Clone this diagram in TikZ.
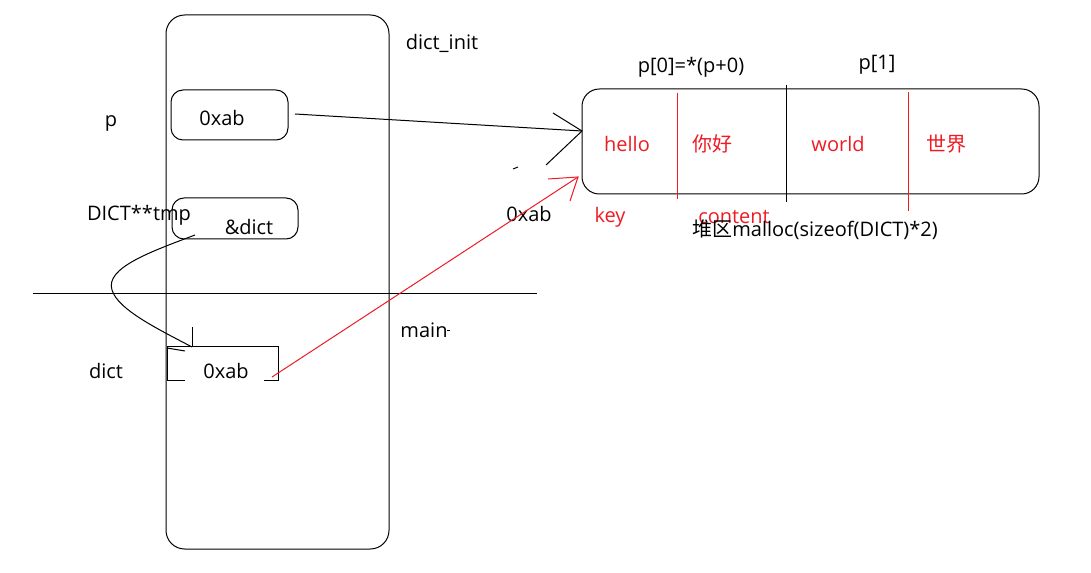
\documentclass[tikz,border=0pt]{standalone}
\usepackage{fontspec}
\setmainfont{Open Sans}
\newfontfamily\cjk{Noto Sans CJK SC}
\definecolor{pred}{RGB}{237,28,36}
\begin{document}
\begin{tikzpicture}[x=0.75pt,y=-0.75pt,line width=0.75pt,
  txt/.style={inner sep=0pt,font=\fontsize{15pt}{18pt}\selectfont},
  redtxt/.style={txt,text=pred},
  redln/.style={draw=pred,line width=0.75pt}]
\useasboundingbox (0,0) rectangle (1091,573);
% stack frame
\draw[rounded corners=14pt] (166,15) rectangle (389,549);
\draw (33,294) -- (537,294);
% p box
\draw[rounded corners=9pt] (171,90) rectangle (288,140);
% &dict box
\draw[rounded corners=9pt] (172,198) rectangle (298,239);
% dict box (open bottom)
\draw (185,380) -- (167,380) -- (167,346) -- (278,346) -- (278,380) -- (264,380);
% heap
\draw[rounded corners=13pt] (582,89) rectangle (1039,194);
\draw[pred] (677,93) -- (677,199);
\draw (786,85) -- (786,202);
\draw[pred] (908,92) -- (908,211);

% labels
\node[txt] (dictinit) at (442,43) {dict\_init};
\node[txt] (plab) at (111,123) {p};
\node[txt] (pval) at (222,118) {0xab};
\node[txt] (tmplab) at (139,215) {DICT**tmp};
\node[txt] (tmpval) at (249,227) {\&dict};
\node[txt] (mainlab) at (424,330) {main};
\draw (447,330) -- (450,330);
\node[txt] (dictlab) at (106,371) {dict};
\node[txt] (dictval) at (226,371) {0xab};
\node[txt] (arrval) at (529,214) {0xab};
\node[txt] (p0) at (691,67) {p[0]=*(p+0)};
\node[txt] (p1) at (877,65) {p[1]};
\node[redtxt] (hello) at (627,144) {hello};
\node[redtxt] (nihao) at (712,144) {\cjk 你好};
\node[redtxt] (world) at (838,144) {world};
\node[redtxt] (shijie) at (946,144) {\cjk 世界};
\node[redtxt] (key) at (610,217) {key};
\node[redtxt] (content) at (734,217) {content};
\node[txt] (heap) at (815,230) {{\cjk 堆区}malloc(sizeof(DICT)*2)};

% arrow p -> heap
\coordinate (pout) at (295,114);
\coordinate (ptip) at (582,131);
\coordinate (pb1) at (553,113);
\coordinate (pb2) at (546,165);
\draw (pout) -- (ptip);
\draw (pb1) -- (ptip) -- (pb2);
\draw (513,169) -- (518,167);

% red arrow dict -> heap
\coordinate (dout) at (272,377);
\coordinate (rtip) at (578,177);
\coordinate (rb1) at (548,179);
\coordinate (rb2) at (570,201);
\draw[pred] (dout) -- (rtip);
\draw[pred] (rb1) -- (rtip) -- (rb2);

% curve tmp -> dict
\coordinate (tmpout) at (195,235);
\coordinate (dtip) at (192,347);
\draw (tmpout) .. controls (150,252) and (105,268) .. (112,290)
      .. controls (118,310) and (160,330) .. (dtip);
\draw (192,327) -- (dtip);
\draw (167,348) -- (185,351);
\end{tikzpicture}
\end{document}
